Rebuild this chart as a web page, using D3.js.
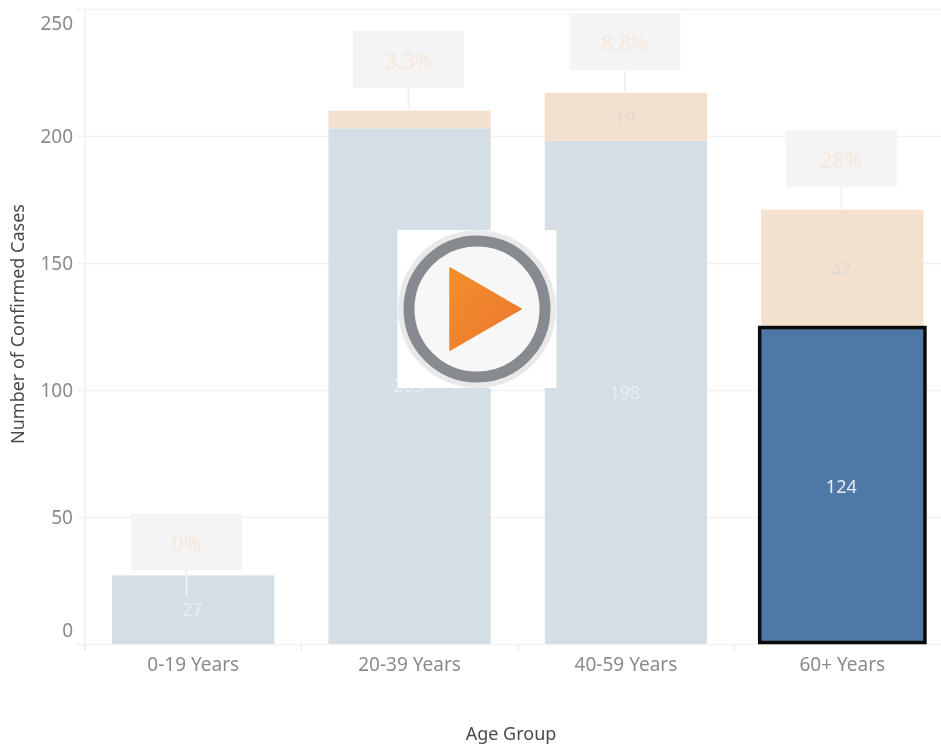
<!DOCTYPE html>
<html>
<head>
<title>Confirmed Cases by Age Group</title>
<style>
html, body {
  margin: 0;
  padding: 0;
  background-color: white;
  overflow: hidden;
}

svg {
  display: block;
  font-family: "Noto Sans", sans-serif;
  filter: blur(0.45px);
}

.tick-label {
  font-size: 19px;
  fill: #8b8b8b;
}

.axis-title {
  font-size: 18px;
  fill: #4a4a4a;
}

.value-label {
  font-size: 18px;
  text-anchor: middle;
}

.pct-label {
  font-size: 21px;
  fill: #f6e8dc;
  text-anchor: middle;
}
</style>
<script src="https://d3js.org/d3.v7.min.js"></script>
</head>
<body>

<svg width="941" height="749"></svg>

<script>
  const ageGroups = ['0-19 Years', '20-39 Years', '40-59 Years', '60+ Years'];
  const lowerValues = [27, 203, 198, 124];
  const upperValues = [0, 7, 19, 47];
  const pctLabels = ['0%', '3.3%', '8.8%', '28%'];
  const yTicks = [0, 50, 100, 150, 200, 250];
  const selectedGroup = '60+ Years';

  const rows = ageGroups.map((g, i) => ({ group: g, lower: lowerValues[i], upper: upperValues[i], pct: pctLabels[i] }));

  const svg = d3.select('svg');

  const x = d3.scaleBand()
    .domain(ageGroups)
    .range([85, 950.5])
    .paddingInner(0.25)
    .paddingOuter(0.125);

  const y = d3.scaleLinear().domain([0, 250]).range([644, 9]);

  const stacked = d3.stack().keys(['lower', 'upper'])(rows);
  const fills = { lower: '#d5dde5', upper: '#f3e0ce' };

  // gridlines
  const grid = svg.append('g')
    .attr('transform', 'translate(85,0)')
    .call(d3.axisLeft(y).tickValues(yTicks).tickSize(-856).tickFormat(''));
  grid.select('.domain').remove();
  grid.selectAll('line').attr('stroke', '#f1f1f1').attr('stroke-width', 1.5);

  // y axis labels + stubs
  const yAxis = svg.append('g')
    .attr('transform', 'translate(85,0)')
    .call(d3.axisLeft(y).tickValues(yTicks).tickSize(8).tickPadding(4));
  yAxis.attr('font-family', null).attr('font-size', null);
  yAxis.select('.domain').attr('stroke', '#f1f1f1').attr('stroke-width', 1.5).attr('d', 'M0,9V651');
  yAxis.selectAll('line').attr('stroke', '#f1f1f1').attr('stroke-width', 1.5);
  yAxis.selectAll('text')
    .attr('class', 'tick-label')
    .attr('dy', d => d === 0 ? '-0.38em' : d === 250 ? '1.1em' : '0.36em');

  // x axis labels
  const xAxis = svg.append('g')
    .attr('transform', 'translate(0,644)')
    .call(d3.axisBottom(x).tickSize(0).tickPadding(14));
  xAxis.attr('font-family', null).attr('font-size', null);
  xAxis.select('.domain').remove();
  xAxis.selectAll('text')
    .attr('class', 'tick-label');

  // ticks between the categories
  svg.append('g')
    .selectAll('line')
    .data(ageGroups)
    .join('line')
    .attr('x1', d => x(d) - x.step() * 0.125)
    .attr('x2', d => x(d) - x.step() * 0.125)
    .attr('y1', 644)
    .attr('y2', 651)
    .attr('stroke', '#ececec')
    .attr('stroke-width', 1.5);

  // bars
  stacked.forEach(series => {
    svg.append('g')
      .selectAll('rect')
      .data(series.filter(d => series.key === 'lower' ? d.data.group !== selectedGroup : d[1] > d[0]))
      .join('rect')
      .attr('x', d => x(d.data.group))
      .attr('width', x.bandwidth())
      .attr('y', d => y(d[1]))
      .attr('height', d => y(d[0]) - y(d[1]))
      .attr('fill', fills[series.key]);
  });

  // selected bar
  const selected = rows.find(d => d.group === selectedGroup);
  svg.append('rect')
    .attr('x', x(selected.group) - 1.5)
    .attr('y', y(selected.lower) - 1.5)
    .attr('width', x.bandwidth() + 3)
    .attr('height', y(0) - y(selected.lower))
    .attr('fill', '#4e78a5')
    .attr('stroke', '#0b0b0b')
    .attr('stroke-width', 3.5);

  // value labels inside the segments
  svg.append('g')
    .selectAll('text')
    .data(rows)
    .join('text')
    .attr('class', 'value-label')
    .attr('x', d => x(d.group) + x.bandwidth() / 2 - 1)
    .attr('y', d => y(d.lower / 2) + 6)
    .attr('fill', d => d.group === selectedGroup ? '#e8edf3' : '#e9edf1')
    .text(d => d.lower);

  svg.append('g')
    .selectAll('text')
    .data(rows.filter(d => d.upper >= 10))
    .join('text')
    .attr('class', 'value-label')
    .attr('x', d => x(d.group) + x.bandwidth() / 2 - 1)
    .attr('y', d => y(d.lower + d.upper / 2) + 7)
    .attr('fill', '#dfd9d2')
    .text(d => d.upper);

  // percent annotations: box above the stack with a stem down to it
  const boxW = 111;
  const boxH = 57;
  const notes = svg.append('g')
    .selectAll('g')
    .data(rows)
    .join('g')
    .attr('transform', d => {
      const first = d.group === ageGroups[0];
      const cx = x(d.group) + x.bandwidth() / 2 + (first ? -6.7 : -1);
      const bottom = y(d.lower + d.upper) - (first ? 5 : 22.5);
      return `translate(${cx},${bottom})`;
    });

  notes.append('line')
    .attr('y1', 0)
    .attr('y2', d => d.group === ageGroups[0] ? 25 : 22)
    .attr('stroke', '#f1f1f1')
    .attr('stroke-width', 2);

  notes.append('rect')
    .attr('x', -boxW / 2)
    .attr('y', -boxH)
    .attr('width', boxW)
    .attr('height', boxH)
    .attr('fill', '#f4f4f4');

  notes.append('text')
    .attr('class', 'pct-label')
    .attr('y', -boxH / 2 + 9)
    .text(d => d.pct);

  // axis titles
  svg.append('text')
    .attr('class', 'axis-title')
    .attr('x', 511)
    .attr('y', 740)
    .attr('text-anchor', 'middle')
    .text('Age Group');

  svg.append('text')
    .attr('class', 'axis-title')
    .attr('transform', 'translate(24,324) rotate(-90)')
    .attr('text-anchor', 'middle')
    .text('Number of Confirmed Cases');

  // play button overlay
  const defs = svg.append('defs');
  const grad = defs.append('linearGradient')
    .attr('id', 'playFill')
    .attr('x1', 0).attr('y1', 0).attr('x2', 1).attr('y2', 1);
  grad.append('stop').attr('offset', '0%').attr('stop-color', '#f38f2b');
  grad.append('stop').attr('offset', '100%').attr('stop-color', '#ec762f');

  const play = svg.append('g').attr('transform', 'translate(477,309)');
  play.append('rect').attr('x', -79.5).attr('y', -79).attr('width', 159).attr('height', 158).attr('fill', 'white');
  play.append('circle').attr('r', 79).attr('fill', '#e9e9e9');
  play.append('circle').attr('r', 68).attr('fill', '#f7f7f7').attr('stroke', '#878b90').attr('stroke-width', 11);
  play.append('path')
    .attr('d', d3.line()([[-27, -41], [44, 0], [-27, 41]]) + 'Z')
    .attr('fill', 'url(#playFill)')
    .attr('stroke', 'url(#playFill)')
    .attr('stroke-width', 1.5)
    .attr('stroke-linejoin', 'round');
</script>

</body>
</html>
